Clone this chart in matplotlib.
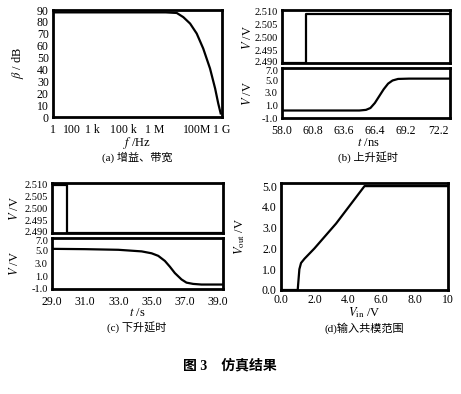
import numpy as np
import matplotlib
matplotlib.use("Agg")
import matplotlib.pyplot as plt
from matplotlib.transforms import ScaledTranslation

plt.rcParams['font.family'] = ['Liberation Serif', 'Noto Sans CJK SC']
plt.rcParams['mathtext.fontset'] = 'stix'
plt.rcParams['font.size'] = 9

# (a) gain vs frequency
freq_a = [1, 1e3, 1e5, 1e6, 3.9e6, 8.7e6, 2.0e7, 4.5e7, 1.0e8, 2.3e8, 4.3e8, 6.3e8, 8.5e8]
gain_a = [88, 88, 88, 88, 87.5, 84, 78.6, 70.2, 57.6, 40.8, 24, 11.4, 3.0]
ticks_a = [1, 10, 120, 5.4e3, 2.7e5, 4.7e7, 1e9]
ticklabels_a = ["1", "100", "1 k", "100 k", "1 M", "100M", "1 G"]

# (b) rising delay
t_b_in = [58.0, 60.2, 60.2, 73.2]
v_b_in = [2.490, 2.490, 2.509, 2.509]
t_b_out = [58.0, 62.0, 65.0, 65.6, 66.0, 66.4, 66.8, 67.2, 67.6, 68.0, 68.5, 69.5, 73.2]
v_b_out = [0.2, 0.2, 0.2, 0.3, 0.6, 1.4, 2.5, 3.6, 4.5, 5.0, 5.25, 5.3, 5.3]

# (c) falling delay
t_c_in = [29.0, 29.9, 29.9, 39.3]
v_c_in = [2.5095, 2.5095, 2.490, 2.490]
t_c_out = [29.0, 31.0, 33.0, 34.4, 35.0, 35.4, 35.8, 36.1, 36.4, 36.8, 37.1, 37.5, 38.0, 39.3]
v_c_out = [5.3, 5.25, 5.15, 4.9, 4.6, 4.2, 3.4, 2.5, 1.5, 0.5, 0.0, -0.2, -0.3, -0.3]

# (d) input common mode range
vin_d = [0.0, 1.0, 1.05, 1.1, 1.2, 1.4, 2.0, 3.3, 5.0, 10.0]
vout_d = [0.0, 0.0, 0.5, 1.0, 1.3, 1.5, 2.0, 3.2, 5.0, 5.0]

W, H = 461, 394
fig = plt.figure(figsize=(W / 100, H / 100), dpi=100)
TS = 8.5


def add_ax(x0, x1, y0, y1, ysize=TS):
    ax = fig.add_axes([x0 / W, 1 - y1 / H, (x1 - x0) / W, (y1 - y0) / H])
    for s in ax.spines.values():
        s.set_linewidth(2.0)
    ax.tick_params(length=0, pad=3, labelsize=TS)
    ax.tick_params(axis='y', labelsize=ysize)
    return ax


def split_pair(ax_top, ax_bot):
    # nudge the end labels of stacked panels apart, as in the original
    fig.canvas.draw()
    lab = ax_top.get_yticklabels()[0]
    lab.set_transform(lab.get_transform() + ScaledTranslation(0, 1.2 / 72, fig.dpi_scale_trans))
    lab = ax_bot.get_yticklabels()[-1]
    lab.set_transform(lab.get_transform() + ScaledTranslation(0, -1.8 / 72, fig.dpi_scale_trans))


lw = 1.6
SS = 7.5

# (a)
ax = add_ax(53, 222, 10, 117)
ax.semilogx(freq_a, gain_a, color='black', lw=lw)
ax.set_xlim(1, 1e9)
ax.set_ylim(0, 90)
ax.set_yticks(range(0, 91, 10))
ax.set_xticks(ticks_a)
ax.set_xticklabels(ticklabels_a)
ax.minorticks_off()
ax.tick_params(axis='x', pad=5)
fig.text(18 / W, 1 - 63 / H, r'$\beta$ / dB', rotation=90, ha='center', va='center', fontsize=9)
fig.text(137 / W, 1 - 143 / H, r'$f$ /Hz', ha='center', va='center', fontsize=9)
fig.text(137 / W, 1 - 157 / H, '(a) 增益、带宽', ha='center', va='center', fontsize=8)

# (b)
axt = add_ax(282, 450, 10, 63, SS)
axt.plot(t_b_in, v_b_in, color='black', lw=lw)
axt.set_xlim(58, 73.2)
axt.set_ylim(2.490, 2.5105)
axt.set_yticks([2.490, 2.495, 2.500, 2.505, 2.510])
axt.set_yticklabels(['2.490', '2.495', '2.500', '2.505', '2.510'])
axt.set_xticks([])
ax = add_ax(282, 450, 68, 118, SS)
ax.plot(t_b_out, v_b_out, color='black', lw=lw)
ax.set_xlim(58, 73.2)
ax.set_ylim(-1, 7)
ax.set_yticks([-1, 1, 3, 5, 7])
ax.set_yticklabels(['-1.0', '1.0', '3.0', '5.0', '7.0'])
ax.set_xticks([58.0, 60.8, 63.6, 66.4, 69.2, 72.2])
ax.set_xticklabels(['58.0', '60.8', '63.6', '66.4', '69.2', '72.2'])
ax.tick_params(axis='x', pad=5)
split_pair(axt, ax)
fig.text(247 / W, 1 - 37 / H, r'$V$ /V', rotation=90, ha='center', va='center', fontsize=9)
fig.text(247 / W, 1 - 93 / H, r'$V$ /V', rotation=90, ha='center', va='center', fontsize=9)
fig.text(368 / W, 1 - 143 / H, r'$t$ /ns', ha='center', va='center', fontsize=9)
fig.text(368 / W, 1 - 157 / H, '(b) 上升延时', ha='center', va='center', fontsize=8)

# (c)
axt = add_ax(52, 223, 183, 233, SS)
axt.plot(t_c_in, v_c_in, color='black', lw=lw)
axt.set_xlim(29, 39.3)
axt.set_ylim(2.490, 2.5105)
axt.set_yticks([2.490, 2.495, 2.500, 2.505, 2.510])
axt.set_yticklabels(['2.490', '2.495', '2.500', '2.505', '2.510'])
axt.set_xticks([])
ax = add_ax(52, 223, 238, 289, SS)
ax.plot(t_c_out, v_c_out, color='black', lw=lw)
ax.set_xlim(29, 39.3)
ax.set_ylim(-1, 7)
ax.set_yticks([-1, 1, 3, 5, 7])
ax.set_yticklabels(['-1.0', '1.0', '3.0', '5.0', '7.0'])
ax.set_xticks([29, 31, 33, 35, 37, 39])
ax.set_xticklabels(['29.0', '31.0', '33.0', '35.0', '37.0', '39.0'])
ax.tick_params(axis='x', pad=5)
split_pair(axt, ax)
fig.text(15 / W, 1 - 208 / H, r'$V$ /V', rotation=90, ha='center', va='center', fontsize=9)
fig.text(15 / W, 1 - 263 / H, r'$V$ /V', rotation=90, ha='center', va='center', fontsize=9)
fig.text(137 / W, 1 - 313 / H, r'$t$ /s', ha='center', va='center', fontsize=9)
fig.text(137 / W, 1 - 327 / H, '(c) 下升延时', ha='center', va='center', fontsize=8)

# (d)
ax = add_ax(281, 448, 183, 290)
ax.plot(vin_d, vout_d, color='black', lw=lw)
ax.set_xlim(0, 10)
ax.set_ylim(0, 5.15)
ax.set_yticks([0, 1, 2, 3, 4, 5])
ax.set_yticklabels(['0.0', '1.0', '2.0', '3.0', '4.0', '5.0'])
ax.set_xticks([0, 2, 4, 6, 8, 10])
ax.set_xticklabels(['0.0', '2.0', '4.0', '6.0', '8.0', '10'])
ax.tick_params(axis='x', pad=3)
fig.text(240 / W, 1 - 237 / H, r'$V_{\rm out}$ /V', rotation=90, ha='center', va='center', fontsize=9)
fig.text(364 / W, 1 - 313 / H, r'$V_{\rm in}$ /V', ha='center', va='center', fontsize=9)
fig.text(364 / W, 1 - 328 / H, '(d)输入共模范围', ha='center', va='center', fontsize=8)

fig.text(230 / W, 1 - 366 / H, '图 3    仿真结果', ha='center', va='center',
         fontsize=10, fontweight='bold')

fig.savefig('out.png', dpi=100)
